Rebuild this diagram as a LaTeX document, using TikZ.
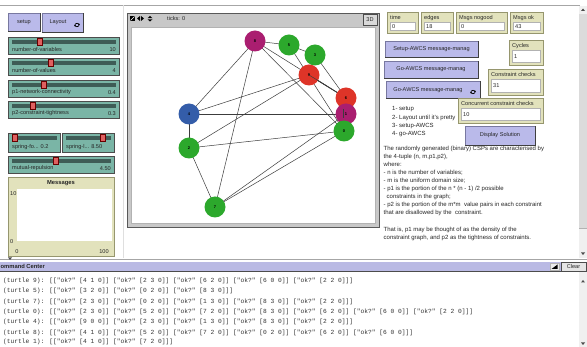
\documentclass[tikz,border=0pt]{standalone}
\usepackage{fontspec}
\setmainfont{Liberation Sans}
\newfontfamily\monof{Liberation Mono}
\usetikzlibrary{arrows.meta,calc}
\definecolor{slbg}{RGB}{122,181,166}
\definecolor{sltrack}{RGB}{62,92,86}
\definecolor{slhandle}{RGB}{222,96,96}
\definecolor{btn}{RGB}{186,186,234}
\definecolor{btnborder}{RGB}{120,120,160}
\definecolor{mon}{RGB}{226,226,188}
\definecolor{monborder}{RGB}{150,150,110}
\definecolor{ccbar}{RGB}{186,186,228}
\definecolor{nlgreen}{RGB}{44,168,44}
\definecolor{nlmag}{RGB}{170,30,112}
\definecolor{nlred}{RGB}{222,52,40}
\definecolor{nlblue}{RGB}{52,93,169}
\definecolor{viewgray}{RGB}{200,200,200}
\definecolor{edgec}{RGB}{60,60,60}
\newcommand\mkslider[8]{%
  \draw[draw=gray!60!black, fill=slbg] (#2,#3) rectangle (#4,#5);
  \fill[sltrack] (#2+4,#3+3) rectangle (#4-3,#3+7);
  \draw[fill=slhandle, draw=red!40!black, line width=0.3pt] (#6-2.5,#3+0.8) rectangle (#6+2.5,#3+8.5);
  \node[txt, anchor=west] (#1l) at (#2+4,#5-4.5) {#7};
  \node[txt, anchor=east] (#1v) at (#4-3,#5-4.5) {#8};
}
\newcommand\mkbtn[6]{%
  \draw[draw=btnborder, fill=btn] (#2,#3) rectangle (#4,#5);
  \draw[gray!50!black, line width=0.6pt] (#2,#5) -- (#4,#5) -- (#4,#3);
  \node[txt] (#1) at ({(#2+#4)/2},{(#3+#5)/2}) {#6};
}
\newcommand\mkmon[7]{%
  \draw[draw=monborder, fill=mon] (#2,#3) rectangle (#4,#5);
  \node[txt, anchor=west] (#1l) at (#2+3,#3+6) {#6};
  \draw[draw=gray!60, fill=white] (#2+3,#3+10.5) rectangle (#4-3,#5-2.5);
  \node[txt, anchor=west] (#1v) at (#2+5,{(#3+8+#5)/2}) {#7};
}
\newcommand\foreverico[2]{%
  \draw[line width=0.7pt, -{Stealth[length=1.3pt,width=2pt]}] (#1+2.2,#2-0.5) arc (0:170:2.2);
  \draw[line width=0.7pt, -{Stealth[length=1.3pt,width=2pt]}] (#1-2.2,#2+0.5) arc (180:350:2.2);
}
\begin{document}
\begin{tikzpicture}[x=1pt,y=-1pt,
  txt/.style={font=\fontsize{5.6}{6.5}\selectfont, inner sep=0pt, text=black!85},
  ptxt/.style={font=\fontsize{6}{8.1}\selectfont, inner sep=0pt, text=black!85},
  mono/.style={font=\monof\fontsize{6.25}{7}\selectfont, inner sep=0pt, text=black!80},
  vnode/.style={circle, minimum size=21pt, inner sep=0pt, font=\fontsize{4}{4}\selectfont\bfseries},
  edge/.style={draw=edgec, line width=0.5pt}]
\useasboundingbox (0,0) rectangle (587,347);
\fill[white] (0,0) rectangle (587,347);
% frame lines
\draw[gray!70] (0,5) -- (580,5);
\draw[gray!25] (123,5) -- (123,258);
% left buttons
\mkbtn{bsetup}{8}{13}{40}{31}{setup}
\draw[draw=btnborder, fill=btn] (42,13) rectangle (83,32);
\draw[gray!50!black, line width=0.6pt] (42,32) -- (83,32) -- (83,13);
\node[txt] (blayout) at (58,22) {Layout};
\foreverico{77}{25}
% sliders
\mkslider{s1}{8}{37}{119}{54}{40}{number-of-variables}{10}
\mkslider{s2}{8}{58}{119}{75}{51}{number-of-values}{4}
\mkslider{s3}{8}{80}{119}{97}{44}{p1-network-connectivity}{0.4}
\mkslider{s4}{8}{101}{119}{118}{33}{p2-constraint-tightness}{0.3}
\mkslider{s5}{8}{133}{60}{152}{15}{spring-fo... 0.2}{}
\mkslider{s6}{62}{133}{114}{152}{103}{spring-l... 8.50}{}
\mkslider{s7}{8}{156}{114}{173}{56}{mutual-repulsion}{4.50}
% plot
\draw[draw=monborder, fill=mon] (8,177) rectangle (114,256);
\node[txt, font=\fontsize{5.8}{6.5}\selectfont\bfseries] (ptitle) at (61,183.5) {Messages};
\fill[white] (17,189) rectangle (112,241);
\node[txt, anchor=west] (py10) at (10,194) {10};
\node[txt, anchor=west] (py0) at (10,242) {0};
\node[txt] (px0) at (17,251.5) {0};
\node[txt] (px100) at (104,251.5) {100};
% view
\draw[draw=gray!70!black, fill=viewgray] (127,13) rectangle (379,227);
\draw[draw=gray!60, fill=white] (131,27) rectangle (375,223);
\fill[black] (130,16) rectangle (135,21);
\draw[white, line width=0.6pt] (130.5,20.5) -- (134.5,16.5);
\fill[black] (137,18.5) -- (140,16) -- (140,21) -- cycle;
\fill[black] (144,18.5) -- (141,16) -- (141,21) -- cycle;
\fill[black] (150,16) -- (152.5,18.2) -- (147.5,18.2) -- cycle;
\fill[black] (150,21.5) -- (152.5,19.3) -- (147.5,19.3) -- cycle;
\node[txt, anchor=west] (ticks) at (167,19) {ticks: 0};
\draw[draw=gray!60!black, fill=gray!30] (363,14) rectangle (377,25);
\node[txt] (b3d) at (370,19.5) {3D};
% graph
\coordinate (p8) at (255,41);
\coordinate (p5) at (289,45);
\coordinate (p3) at (315,55);
\coordinate (p9) at (309,75);
\coordinate (p6) at (346,98);
\coordinate (p1) at (346,114);
\coordinate (p0) at (344,131);
\coordinate (p4) at (189,114);
\coordinate (p2) at (189,148);
\coordinate (p7) at (215,207);
\foreach \a/\b in {8/5,5/3,8/4,8/7,8/6,8/0,5/0,3/6,9/6,9/4,9/2,4/1,4/2,2/0,2/7,7/1,7/0,0/6}
  \draw[edge] (p\a) -- (p\b);
\draw[edge, line width=0.8pt] (p9) -- (p6);
\node[vnode, fill=nlmag] (n8) at (p8) {8};
\node[vnode, fill=nlgreen] (n5) at (p5) {5};
\node[vnode, fill=nlgreen] (n3) at (p3) {3};
\node[vnode, fill=nlred] (n9) at (p9) {9};
\node[vnode, fill=nlred] (n6) at (p6) {6};
\node[vnode, fill=nlmag] (n1) at (p1) {1};
\node[vnode, fill=nlgreen] (n0) at (p0) {0};
\node[vnode, fill=nlblue] (n4) at (p4) {4};
\node[vnode, fill=nlgreen] (n2) at (p2) {2};
\node[vnode, fill=nlgreen] (n7) at (p7) {7};
\draw[edge] (p9) -- ($(p9)!0.5!(p6)$);
\draw[edge] (343.5,109) -- (343.5,118);
% monitors
\mkmon{mtime}{387}{12}{418}{33}{time}{0}
\mkmon{medges}{421}{12}{453}{33}{edges}{18}
\mkmon{mnog}{456}{12}{507}{33}{Msgs nogood}{0}
\mkmon{mok}{510}{12}{543}{33}{Msgs ok}{43}
\mkmon{mcyc}{509}{40}{543}{65}{Cycles}{1}
% buttons right
\mkbtn{bsetupawcs}{385}{41}{478}{57}{Setup-AWCS message-manag}
\mkbtn{bgo}{384}{61}{478}{78}{Go-AWCS message-manag}
\mkmon{mcc}{488}{69}{543}{95}{Constraint checks}{31}
\draw[draw=btnborder, fill=btn] (386,81) rectangle (480,98);
\draw[gray!50!black, line width=0.6pt] (386,98) -- (480,98) -- (480,81);
\node[txt] (bgof) at (428,90) {Go-AWCS message-manag};
\foreverico{473}{92}
% notes
\node[ptxt, anchor=west] (l1) at (392,109.5) {1- setup};
\node[ptxt, anchor=west] (l2) at (392,117.5) {2- Layout until it's pretty};
\node[ptxt, anchor=west] (l3) at (392,126) {3- setup-AWCS};
\node[ptxt, anchor=west] (l4) at (392,134.5) {4- go-AWCS};
\mkmon{mccc}{458}{98}{543}{123}{Concurrent constraint checks}{10}
\mkbtn{bdisp}{465}{126}{535}{145}{Display Solution}
\node[ptxt, anchor=north west, align=left] (para) at (383.5,145.5) {The randomly generated (binary) CSPs are characterised by\\
the 4-tuple (n, m,p1,p2),\\
where:\\
- n is the number of variables;\\
- m is the uniform domain size;\\
- p1 is the portion of the n * (n - 1) /2 possible\\
\hspace{3pt}constraints in the graph;\\
- p2 is the portion of the m*m\ \ value pairs in each constraint\\
that are disallowed by the\ \ constraint.\\[8.1pt]
That is, p1 may be thought of as the density of the\\
constraint graph, and p2 as the tightness of constraints.};
% interface scrollbar
\fill[gray!12] (579,6) rectangle (587,258);
\fill[gray!28] (579,14) rectangle (587,228);
\draw[gray!60] (579,228) -- (587,228);
\fill[black!70] (583,8.5) -- (585,11) -- (581,11) -- cycle;
\fill[black!70] (583,255) -- (585,252.5) -- (581,252.5) -- cycle;
% command center
\draw[gray!70] (0,259) -- (587,259);
\fill[black!70] (8,257.5) -- (12,257.5) -- (10,260) -- cycle;
\node[mono, anchor=west] (c1) at (3,281) {(turtle 9): [["ok?" [4 1 0]] ["ok?" [2 3 0]] ["ok?" [6 2 0]] ["ok?" [6 0 0]] ["ok?" [2 2 0]]]};
\node[mono, anchor=west] (c2) at (3,291.3) {(turtle 5): [["ok?" [3 2 0]] ["ok?" [0 2 0]] ["ok?" [8 3 0]]]};
\node[mono, anchor=west] (c3) at (3,301.6) {(turtle 7): [["ok?" [2 3 0]] ["ok?" [0 2 0]] ["ok?" [1 3 0]] ["ok?" [8 3 0]] ["ok?" [2 2 0]]]};
\node[mono, anchor=west] (c4) at (3,311.9) {(turtle 0): [["ok?" [2 3 0]] ["ok?" [5 2 0]] ["ok?" [7 2 0]] ["ok?" [8 3 0]] ["ok?" [6 2 0]] ["ok?" [6 0 0]] ["ok?" [2 2 0]]]};
\node[mono, anchor=west] (c5) at (3,322.2) {(turtle 4): [["ok?" [9 0 0]] ["ok?" [2 3 0]] ["ok?" [1 3 0]] ["ok?" [8 3 0]] ["ok?" [2 2 0]]]};
\node[mono, anchor=west] (c6) at (3,332.5) {(turtle 8): [["ok?" [4 1 0]] ["ok?" [5 2 0]] ["ok?" [7 2 0]] ["ok?" [0 2 0]] ["ok?" [6 2 0]] ["ok?" [6 0 0]]]};
\node[mono, anchor=west] (c7) at (3,342.3) {(turtle 1): [["ok?" [4 1 0]] ["ok?" [7 2 0]]]};
\fill[ccbar] (0,262) rectangle (587,271.5);
\draw[gray!60!black] (0,271.5) -- (587,271.5);
\node[txt, font=\fontsize{5.8}{6.5}\selectfont\bfseries, anchor=west] (cctitle) at (0.5,266.8) {ommand Center};
\draw[draw=gray!60, fill=gray!15] (550,263) rectangle (559,270.5);
\fill[black] (551.5,269) -- (557.5,264.5) -- (557.5,269) -- cycle;
\draw[draw=gray!60!black, fill=gray!20] (561,262.5) rectangle (586,271);
\node[txt] (bclear) at (573.5,266.8) {Clear};
\fill[gray!12] (579,272) rectangle (587,347);
\fill[black!70] (583,280) -- (585,282.5) -- (581,282.5) -- cycle;
\fill[black!70] (583,345) -- (585,342.5) -- (581,342.5) -- cycle;
\end{tikzpicture}
\end{document}
